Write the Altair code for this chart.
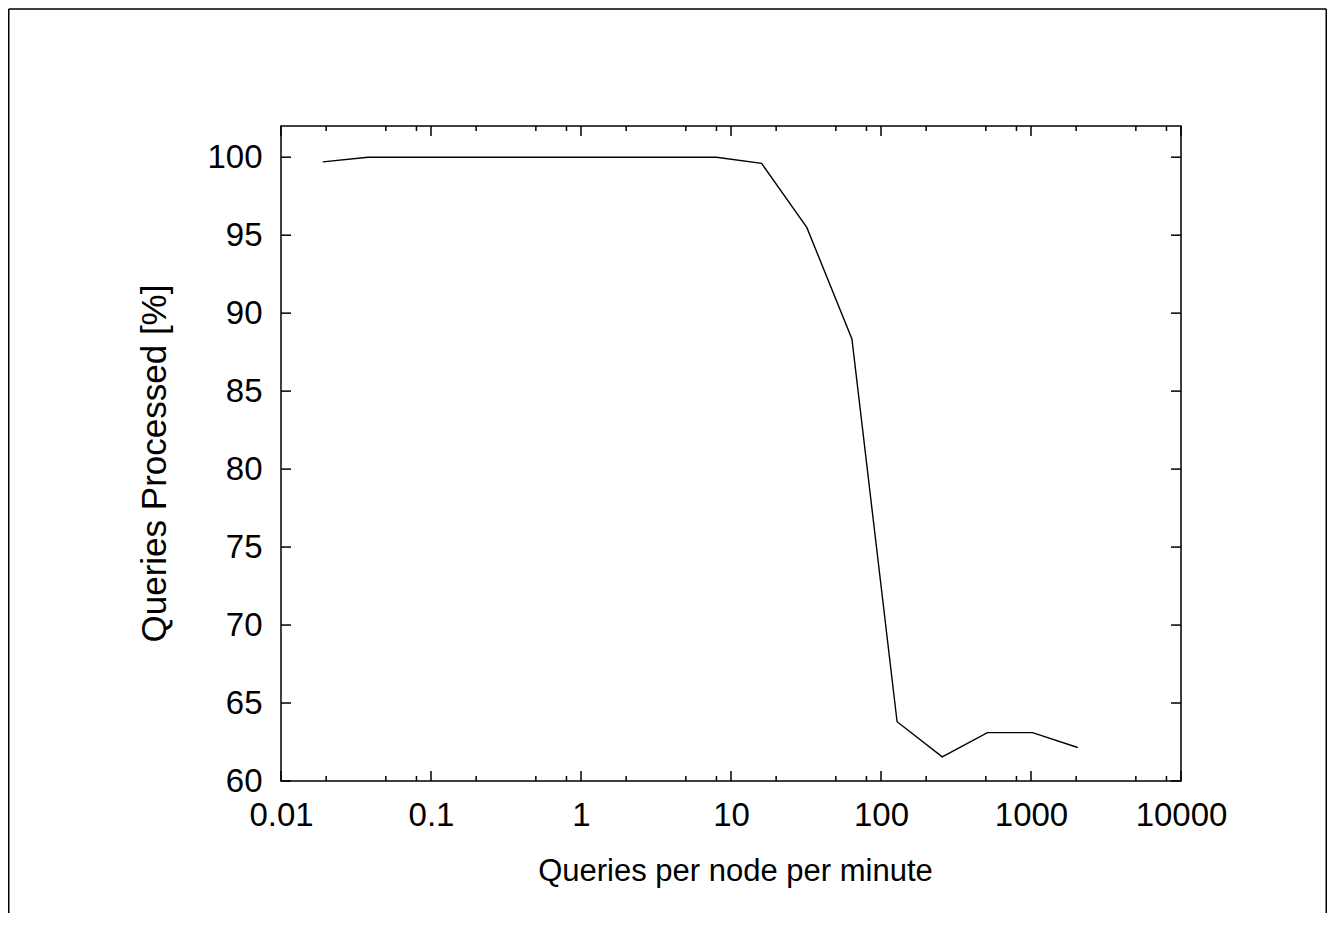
import altair as alt
import pandas as pd

# Data
rate = [0.019, 0.038, 8, 16, 32, 64, 128, 256, 512, 1024, 2048]
processed = [99.7, 100.0, 100.0, 99.6, 95.5, 88.35, 63.8, 61.55, 63.1, 63.1, 62.15]

x_major = [0.01, 0.1, 1, 10, 100, 1000, 10000]
x_minor = [d * m for d in [0.01, 0.1, 1, 10, 100, 1000] for m in (2, 5, 8)]
y_major = [60, 65, 70, 75, 80, 85, 90, 95, 100]

W, H = 900, 655
PAD_L, PAD_T, PAD_R, PAD_B = 273, 118, 146, 132
FONT = "Liberation Sans"

xscale = alt.Scale(type="log", domain=[0.01, 10000], nice=False)
yscale = alt.Scale(domain=[60, 102], nice=False, zero=False)

xaxis = alt.Axis(values=x_major, labelExpr="format(datum.value, '~g')", ticks=False, tickSize=0,
                 domain=False, grid=False, labelPadding=18, labelFontSize=33, labelFont=FONT,
                 labelColor="black", title="Queries per node per minute", titleFontSize=31,
                 titleFont=FONT, titleFontWeight="normal", titleColor="black",
                 titleX=454, titleY=99, titleBaseline="alphabetic", titleAnchor="middle",
                 labelFlush=False)
yaxis = alt.Axis(values=y_major, ticks=False, tickSize=0, domain=False, grid=False,
                 labelPadding=19, labelFontSize=33, labelFont=FONT, labelColor="black",
                 title="Queries Processed [%]", titleFontSize=35, titleFont=FONT,
                 titleFontWeight="normal", titleColor="black", titleX=-127, titleY=337,
                 titleAngle=-90, titleBaseline="middle", titleAlign="center")

X = lambda: alt.X("x:Q", scale=xscale, axis=xaxis)
Y = lambda: alt.Y("y:Q", scale=yscale, axis=yaxis)

line_df = pd.DataFrame({"x": rate, "y": processed})
xmaj_df = pd.DataFrame({"x": x_major})
xmin_df = pd.DataFrame({"x": x_minor})
ymaj_df = pd.DataFrame({"y": y_major})

line = alt.Chart(line_df).mark_line(color="black", strokeWidth=1.4, clip=True).encode(x=X(), y=Y())

tick_style = dict(color="black", strokeWidth=1.5)
xmaj_b = alt.Chart(xmaj_df).mark_rule(**tick_style).encode(x=X(), y=alt.value(H), y2=alt.value(H - 10))
xmaj_t = alt.Chart(xmaj_df).mark_rule(**tick_style).encode(x=X(), y=alt.value(0), y2=alt.value(10))
xmin_b = alt.Chart(xmin_df).mark_rule(**tick_style).encode(x=X(), y=alt.value(H), y2=alt.value(H - 5))
xmin_t = alt.Chart(xmin_df).mark_rule(**tick_style).encode(x=X(), y=alt.value(0), y2=alt.value(5))
ymaj_l = alt.Chart(ymaj_df).mark_rule(**tick_style).encode(y=Y(), x=alt.value(0), x2=alt.value(10))
ymaj_r = alt.Chart(ymaj_df).mark_rule(**tick_style).encode(y=Y(), x=alt.value(W), x2=alt.value(W - 10))

# outer page border (decoration): left, top and right edges; bottom runs off the page
bl = -PAD_L + 0.75
bt = -PAD_T + 1
br = W + PAD_R - 0.75
bb = H + PAD_B
frame_df = pd.DataFrame({"k": [0]})
border_l = alt.Chart(frame_df).mark_rule(color="black", strokeWidth=1.5).encode(
    x=alt.value(bl), y=alt.value(bt), y2=alt.value(bb))
border_t = alt.Chart(frame_df).mark_rule(color="black", strokeWidth=1.5).encode(
    x=alt.value(bl), x2=alt.value(br), y=alt.value(bt))
border_r = alt.Chart(frame_df).mark_rule(color="black", strokeWidth=1.5).encode(
    x=alt.value(br), y=alt.value(bt), y2=alt.value(bb))

chart = alt.layer(border_l, border_t, border_r, line, xmaj_b, xmaj_t, xmin_b, xmin_t,
                  ymaj_l, ymaj_r).properties(
    width=W, height=H,
    autosize=alt.AutoSizeParams(type="none"),
    padding={"left": PAD_L, "top": PAD_T, "right": PAD_R, "bottom": PAD_B},
    background="white",
).configure_view(stroke="black", strokeWidth=1.5)

chart.save("out.html", embed_options={"renderer": "svg", "actions": False})
